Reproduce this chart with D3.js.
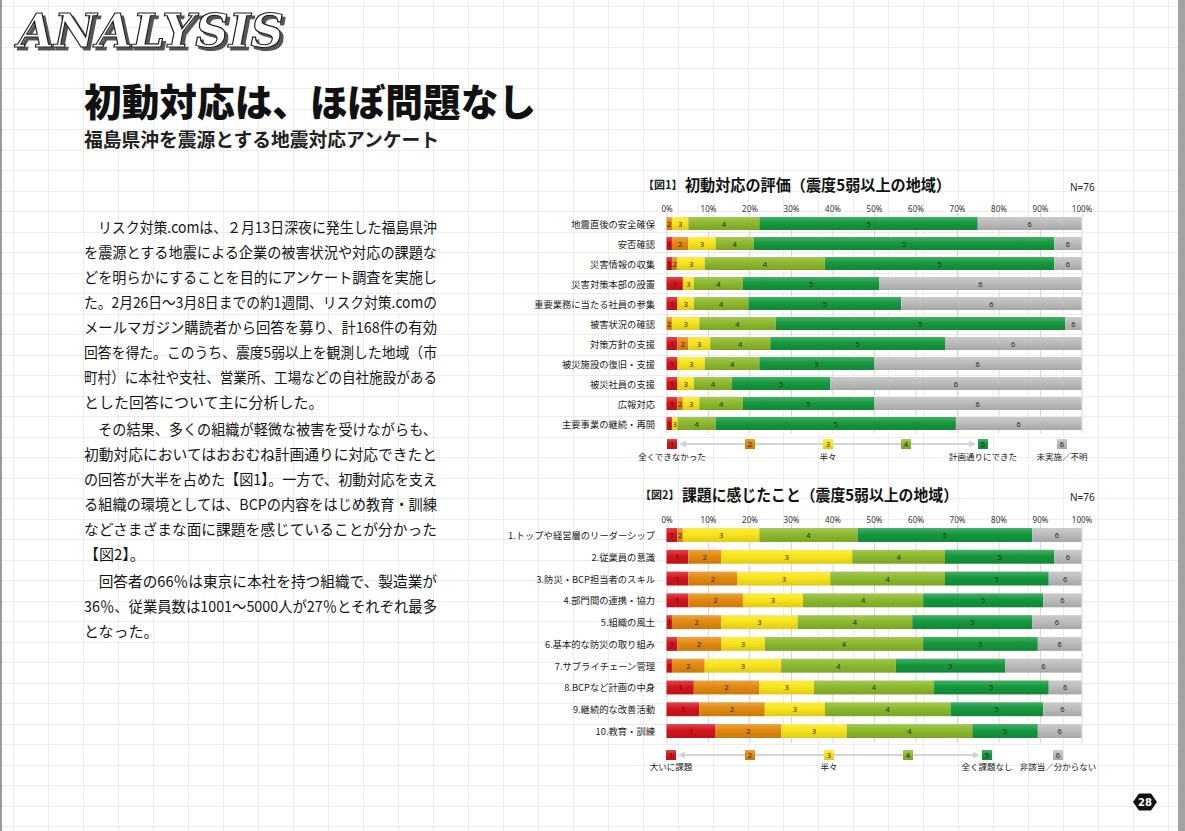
<!DOCTYPE html>
<html lang="ja">
<head>
<meta charset="utf-8">
<script src="https://cdn.jsdelivr.net/npm/d3@7"></script>
<style>
  html, body { margin: 0; padding: 0; background: #fff; }
  svg { display: block; }
</style>
</head>
<body>
<div id="chart"></div>
<script>
// ---------------- DATA ----------------
const N = 76;
const levels = ["1", "2", "3", "4", "5", "6"];
const levelColors = ["#d3141d", "#e3890f", "#f9e51b", "#8cb92c", "#14983d", "#bcbcbc"];
const tickValues = [0, 10, 20, 30, 40, 50, 60, 70, 80, 90, 100];

const fig1Title = "初動対応の評価（震度5弱以上の地域）";
const fig1Categories = [
  "地震直後の安全確保", "安否確認", "災害情報の収集", "災害対策本部の設置",
  "重要業務に当たる社員の参集", "被害状況の確認", "対策方針の支援",
  "被災施設の復旧・支援", "被災社員の支援", "広報対応", "主要事業の継続・再開"
];
// respondent counts per level 1..6 (N=76)
const fig1Counts = [
  [0, 1, 3, 13, 40, 19],
  [1, 3, 5, 7, 55, 5],
  [1, 1, 5, 22, 42, 5],
  [3, 0, 2, 9, 25, 37],
  [2, 0, 3, 10, 28, 33],
  [0, 1, 5, 14, 53, 3],
  [2, 2, 4, 11, 32, 25],
  [2, 0, 5, 10, 21, 38],
  [2, 0, 3, 7, 18, 46],
  [2, 1, 3, 8, 24, 38],
  [1, 0, 1, 7, 44, 23]
];
const fig1LegendLabels = ["全くできなかった", "", "半々", "", "計画通りにできた", "未実施／不明"];

const fig2Title = "課題に感じたこと（震度5弱以上の地域）";
const fig2Categories = [
  "1.トップや経営層のリーダーシップ", "2.従業員の意識", "3.防災・BCP担当者のスキル",
  "4.部門間の連携・協力", "5.組織の風土", "6.基本的な防災の取り組み",
  "7.サプライチェーン管理", "8.BCPなど計画の中身", "9.継続的な改善活動", "10.教育・訓練"
];
const fig2Counts = [
  [2, 1, 14, 18, 32, 9],
  [4, 6, 24, 17, 20, 5],
  [4, 9, 17, 21, 19, 6],
  [4, 10, 11, 22, 22, 7],
  [1, 9, 14, 21, 22, 9],
  [2, 8, 8, 29, 21, 8],
  [1, 6, 14, 21, 20, 14],
  [5, 12, 10, 22, 21, 6],
  [6, 12, 11, 23, 17, 7],
  [9, 12, 12, 23, 12, 8]
];
const fig2LegendLabels = ["大いに課題", "", "半々", "", "全く課題なし", "非該当／分からない"];

const bodyLines = [
  "　リスク対策.comは、２月13日深夜に発生した福島県沖",
  "を震源とする地震による企業の被害状況や対応の課題な",
  "どを明らかにすることを目的にアンケート調査を実施し",
  "た。2月26日～3月8日までの約1週間、リスク対策.comの",
  "メールマガジン購読者から回答を募り、計168件の有効",
  "回答を得た。このうち、震度5弱以上を観測した地域（市",
  "町村）に本社や支社、営業所、工場などの自社施設がある",
  "とした回答について主に分析した。",
  "　その結果、多くの組織が軽微な被害を受けながらも、",
  "初動対応においてはおおむね計画通りに対応できたと",
  "の回答が大半を占めた【図1】。一方で、初動対応を支え",
  "る組織の環境としては、BCPの内容をはじめ教育・訓練",
  "などさまざまな面に課題を感じていることが分かった",
  "【図2】。",
  "　回答者の66％は東京に本社を持つ組織で、製造業が",
  "36％、従業員数は1001～5000人が27％とそれぞれ最多",
  "となった。"
];
const shortLines = [7, 13, 16];

// ---------------- DRAW ----------------
const W = 1185, H = 831;
const JP = "'Noto Sans CJK JP', 'Noto Sans', sans-serif";
const svg = d3.select("#chart").append("svg").attr("width", W).attr("height", H);

// gradients
const defs = svg.append("defs");
levelColors.forEach((c, i) => {
  const g = defs.append("linearGradient").attr("id", "g" + i)
    .attr("x1", 0).attr("y1", 0).attr("x2", 0).attr("y2", 1);
  const base = d3.color(c);
  g.append("stop").attr("offset", "0%").attr("stop-color", d3.interpolateRgb(c, "#fff")(0.22));
  g.append("stop").attr("offset", "45%").attr("stop-color", c);
  g.append("stop").attr("offset", "100%").attr("stop-color", base.darker(0.35));
});
// drop shadow for ANALYSIS
const f = defs.append("filter").attr("id", "shadow").attr("x", "-5%").attr("y", "-20%")
  .attr("width", "115%").attr("height", "150%");
f.append("feOffset").attr("in", "SourceAlpha").attr("dx", 3).attr("dy", 3).attr("result", "off");
f.append("feFlood").attr("flood-color", "#555").attr("result", "col");
f.append("feComposite").attr("in", "col").attr("in2", "off").attr("operator", "in").attr("result", "sh");
const fm = f.append("feMerge");
fm.append("feMergeNode").attr("in", "sh");
fm.append("feMergeNode").attr("in", "SourceGraphic");

// page background grid
const bg = svg.append("g");
bg.selectAll("line.v").data(d3.range(13, W, 35)).join("line")
  .attr("x1", d => d + 0.5).attr("x2", d => d + 0.5).attr("y1", 0).attr("y2", H)
  .attr("stroke", "#ececec").attr("stroke-width", 1);
bg.selectAll("line.h").data(d3.range(6, H, 20.5)).join("line")
  .attr("y1", d => Math.round(d) + 0.5).attr("y2", d => Math.round(d) + 0.5).attr("x1", 0).attr("x2", W)
  .attr("stroke", "#ececec").attr("stroke-width", 1);
svg.append("rect").attr("x", 0).attr("y", 0).attr("width", 2).attr("height", H).attr("fill", "#9a9a9a");
svg.append("rect").attr("x", 1178).attr("y", 0).attr("width", 7).attr("height", H).attr("fill", "#a3a3a3");

// ANALYSIS heading
svg.append("text").attr("x", 18).attr("y", 47).text("ANALYSIS")
  .attr("font-family", "'DejaVu Serif', serif").attr("font-weight", "bold")
  .attr("font-style", "italic").attr("font-size", 46)
  .attr("textLength", 266).attr("lengthAdjust", "spacingAndGlyphs")
  .attr("fill", "#fff").attr("stroke", "#222").attr("stroke-width", 1.2)
  .attr("filter", "url(#shadow)");

// Title & subtitle
svg.append("text").attr("x", 84).attr("y", 99).attr("dominant-baseline", "central")
  .attr("font-family", JP).attr("font-weight", 900).attr("font-size", 38).attr("fill", "#111")
  .attr("textLength", 452).attr("lengthAdjust", "spacingAndGlyphs")
  .text("初動対応は、ほぼ問題なし");
svg.append("text").attr("x", 84).attr("y", 138).attr("dominant-baseline", "central")
  .attr("font-family", JP).attr("font-weight", 700).attr("font-size", 19).attr("fill", "#222")
  .attr("textLength", 355).attr("lengthAdjust", "spacingAndGlyphs")
  .text("福島県沖を震源とする地震対応アンケート");

// Body text
const lineY = [226, 251, 276, 301, 326, 351, 376, 401, 428, 453, 478, 503, 528, 553, 580, 605, 630];
const body = svg.append("g").attr("font-family", JP).attr("font-size", 15).attr("fill", "#151515");
bodyLines.forEach((t, i) => {
  const el = body.append("text").attr("x", 84).attr("y", lineY[i]).attr("dominant-baseline", "central").text(t);
  if (!shortLines.includes(i)) el.attr("textLength", 353).attr("lengthAdjust", "spacingAndGlyphs");
});

// Chart drawing function
function drawChart(o) {
  const g = svg.append("g");
  const x = d3.scaleLinear().domain([0, 100]).range([666.5, 1081.5]);
  const y = d3.scaleBand().domain(o.categories).range(o.yRange)
    .paddingInner(o.pad).paddingOuter(o.pad / 2);

  // heading
  g.append("text").attr("x", o.tagX).attr("y", o.titleY).attr("dominant-baseline", "central")
    .attr("font-family", JP).attr("font-weight", 700).attr("font-size", 11).attr("fill", "#222")
    .text(o.tag);
  g.append("text").attr("x", o.tagX + 42).attr("y", o.titleY).attr("dominant-baseline", "central")
    .attr("font-family", JP).attr("font-weight", 700).attr("font-size", 15.5).attr("fill", "#111")
    .attr("textLength", o.titleLen).attr("lengthAdjust", "spacingAndGlyphs")
    .text(o.title);
  g.append("text").attr("x", 1070).attr("y", o.titleY + 3).attr("dominant-baseline", "central")
    .attr("font-family", "'Noto Sans', sans-serif").attr("font-size", 10).attr("fill", "#222")
    .text("N=" + N);

  // gridlines
  const grid = g.append("g").attr("transform", `translate(0,${o.gridTop})`)
    .call(d3.axisBottom(x).tickValues(tickValues).tickSize(o.gridBottom - o.gridTop).tickFormat(""));
  grid.select(".domain").remove();
  grid.selectAll(".tick line").attr("stroke", "#d6d6d6").attr("stroke-width", 1);

  // tick labels
  const ax = g.append("g").attr("transform", `translate(0,${o.axisY})`)
    .call(d3.axisTop(x).tickValues(tickValues).tickSize(0).tickPadding(0).tickFormat(d => d + "%"));
  ax.select(".domain").remove();
  ax.selectAll("text").attr("font-family", "'Noto Sans', sans-serif").attr("font-size", 8)
    .attr("fill", "#333").attr("dominant-baseline", "central").attr("dy", null).attr("y", 0);

  // category labels
  g.append("g").selectAll("text").data(o.categories).join("text")
    .attr("x", 655).attr("y", d => y(d) + y.bandwidth() / 2).attr("dominant-baseline", "central")
    .attr("text-anchor", "end").attr("font-family", JP).attr("font-size", 9.3).attr("fill", "#222")
    .text(d => d);

  // stacked bars
  const rows = o.categories.map((c, i) => {
    const r = { cat: c };
    levels.forEach((l, j) => r[l] = o.counts[i][j] / N * 100);
    return r;
  });
  const series = d3.stack().keys(levels)(rows);
  const sg = g.append("g").selectAll("g").data(series).join("g")
    .attr("fill", (d, i) => `url(#g${i})`);
  sg.selectAll("rect").data(d => d.map(v => ({ v, key: d.key }))).join("rect")
    .attr("x", d => x(d.v[0])).attr("width", d => Math.max(0, x(d.v[1]) - x(d.v[0])))
    .attr("y", d => y(d.v.data.cat)).attr("height", y.bandwidth());
  sg.selectAll("text").data(d => d.map(v => ({ v, key: d.key })).filter(d => d.v[1] - d.v[0] > 0.01))
    .join("text")
    .attr("x", d => (x(d.v[0]) + x(d.v[1])) / 2).attr("y", d => y(d.v.data.cat) + y.bandwidth() / 2)
    .attr("text-anchor", "middle").attr("dominant-baseline", "central")
    .attr("font-family", "'Noto Sans', sans-serif").attr("font-size", 7.5)
    .attr("fill", d => d.key === "1" ? "#5a0a0a" : "#2a2a2a")
    .text(d => d.key);

  // legend
  const lg = g.append("g");
  const ly = o.legendY;
  lg.append("line").attr("x1", o.legendX[0] + 9).attr("x2", o.legendX[4] - 9)
    .attr("y1", ly).attr("y2", ly).attr("stroke", "#cdd6de").attr("stroke-width", 2);
  lg.append("path").attr("d", `M${o.legendX[0] + 7},${ly} l7,-3.5 l0,7 z`).attr("fill", "#cdd6de");
  lg.append("path").attr("d", `M${o.legendX[4] - 7},${ly} l-7,-3.5 l0,7 z`).attr("fill", "#cdd6de");
  levels.forEach((l, i) => {
    lg.append("rect").attr("x", o.legendX[i] - 5).attr("y", ly - 5).attr("width", 10).attr("height", 10)
      .attr("fill", `url(#g${i})`);
    lg.append("text").attr("x", o.legendX[i]).attr("y", ly).attr("text-anchor", "middle")
      .attr("dominant-baseline", "central").attr("font-family", "'Noto Sans', sans-serif")
      .attr("font-size", 7.5).attr("fill", i === 0 ? "#5a0a0a" : "#222").text(l);
    if (o.legendLabels[i]) {
      lg.append("text").attr("x", o.legendX[i]).attr("y", ly + o.legendLabelDy).attr("text-anchor", "middle")
        .attr("dominant-baseline", "central").attr("font-family", JP).attr("font-size", 8.5)
        .attr("fill", "#222").text(o.legendLabels[i]);
    }
  });
}

drawChart({
  tag: "【図1】", tagX: 643, title: fig1Title, titleLen: 266, titleY: 184,
  categories: fig1Categories, counts: fig1Counts,
  yRange: [213.5, 433.5], pad: 0.35, axisY: 208, gridTop: 213, gridBottom: 433,
  legendX: [672, 750, 828, 906, 983, 1062], legendY: 444, legendLabelDy: 12,
  legendLabels: fig1LegendLabels
});
drawChart({
  tag: "【図2】", tagX: 640, title: fig2Title, titleLen: 276, titleY: 494,
  categories: fig2Categories, counts: fig2Counts,
  yRange: [524.1, 741.9], pad: 0.36, axisY: 519, gridTop: 524, gridBottom: 743,
  legendX: [671, 750, 829, 908, 987, 1058], legendY: 755, legendLabelDy: 11,
  legendLabels: fig2LegendLabels
});

// page number hexagon
const pn = svg.append("g").attr("transform", "translate(1145,802)");
pn.append("path").attr("d", "M-12,0 L-6,-8.5 L6,-8.5 L12,0 L6,8.5 L-6,8.5 Z").attr("fill", "#111");
pn.append("text").attr("text-anchor", "middle").attr("dominant-baseline", "central")
  .attr("font-family", "'DejaVu Sans', sans-serif").attr("font-weight", "bold").attr("font-size", 10)
  .attr("fill", "#fff").text("28");
</script>
</body>
</html>
